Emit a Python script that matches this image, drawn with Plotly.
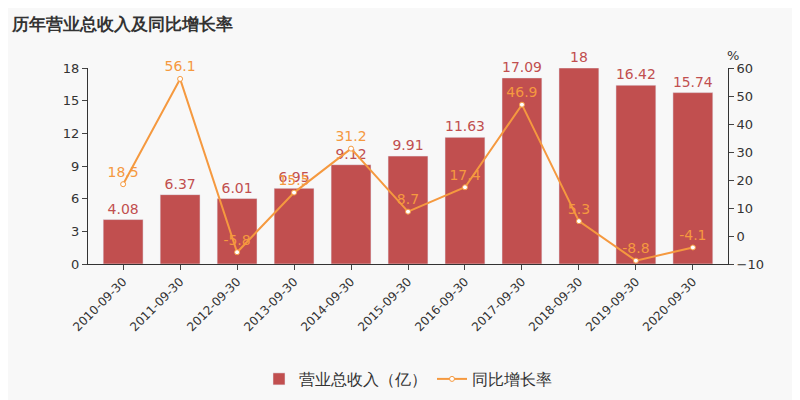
import plotly.graph_objects as go

cats = ["2010-09-30","2011-09-30","2012-09-30","2013-09-30","2014-09-30","2015-09-30","2016-09-30","2017-09-30","2018-09-30","2019-09-30","2020-09-30"]
revenue = [4.08,6.37,6.01,6.95,9.12,9.91,11.63,17.09,18,16.42,15.74]
growth = [18.5,56.1,-5.8,15.5,31.2,8.7,17.4,46.9,5.3,-8.8,-4.1]
rev_text = ["4.08","6.37","6.01","6.95","9.12","9.91","11.63","17.09","18","16.42","15.74"]
gr_text = ["18.5","56.1","-5.8","15.5","31.2","8.7","17.4","46.9","5.3","-8.8","-4.1"]

bar_c = "#c14f4f"
line_c = "#f5993f"
fig = go.Figure()
fig.add_bar(x=cats, y=revenue, name="营业总收入（亿）", marker_color=bar_c, width=0.7,
            text=rev_text, textposition="outside", textfont=dict(color=bar_c, size=14), cliponaxis=False)
fig.add_scatter(x=cats, y=growth, name="同比增长率", yaxis="y2", mode="lines+markers+text",
                line=dict(color=line_c, width=2), marker=dict(size=5, color="white", line=dict(color=line_c, width=1)),
                text=gr_text, textposition="top center", textfont=dict(color=line_c, size=14), cliponaxis=False)
fig.update_layout(
    width=800, height=400, plot_bgcolor="#f8f8f8", paper_bgcolor="#f8f8f8",
    font=dict(family="DejaVu Sans", color="#333"),
    margin=dict(l=80, r=80, t=60, b=115),
    title=dict(text="<b>历年营业总收入及同比增长率</b>", x=0.005, y=0.975, font=dict(size=17, color="#333")),
    xaxis=dict(type="category", tickangle=-45, tickfont=dict(size=12), showline=True, linecolor="#333", ticks="outside", showgrid=False),
    yaxis=dict(range=[0,18], dtick=3, showgrid=False, showline=True, linecolor="#333", ticks="outside", tickfont=dict(size=13), zeroline=False),
    yaxis2=dict(range=[-10,60], dtick=10, overlaying="y", side="right", showgrid=False, showline=True, linecolor="#333", ticks="outside", tickfont=dict(size=13), zeroline=False),
    legend=dict(orientation="h", x=0.5, xanchor="center", y=-0.5, yanchor="top", font=dict(size=16)),
    annotations=[dict(text="%", xref="paper", yref="paper", x=0.995, y=1.11, showarrow=False, font=dict(size=13), xanchor="left")],
)
fig.write_html("out.html")
